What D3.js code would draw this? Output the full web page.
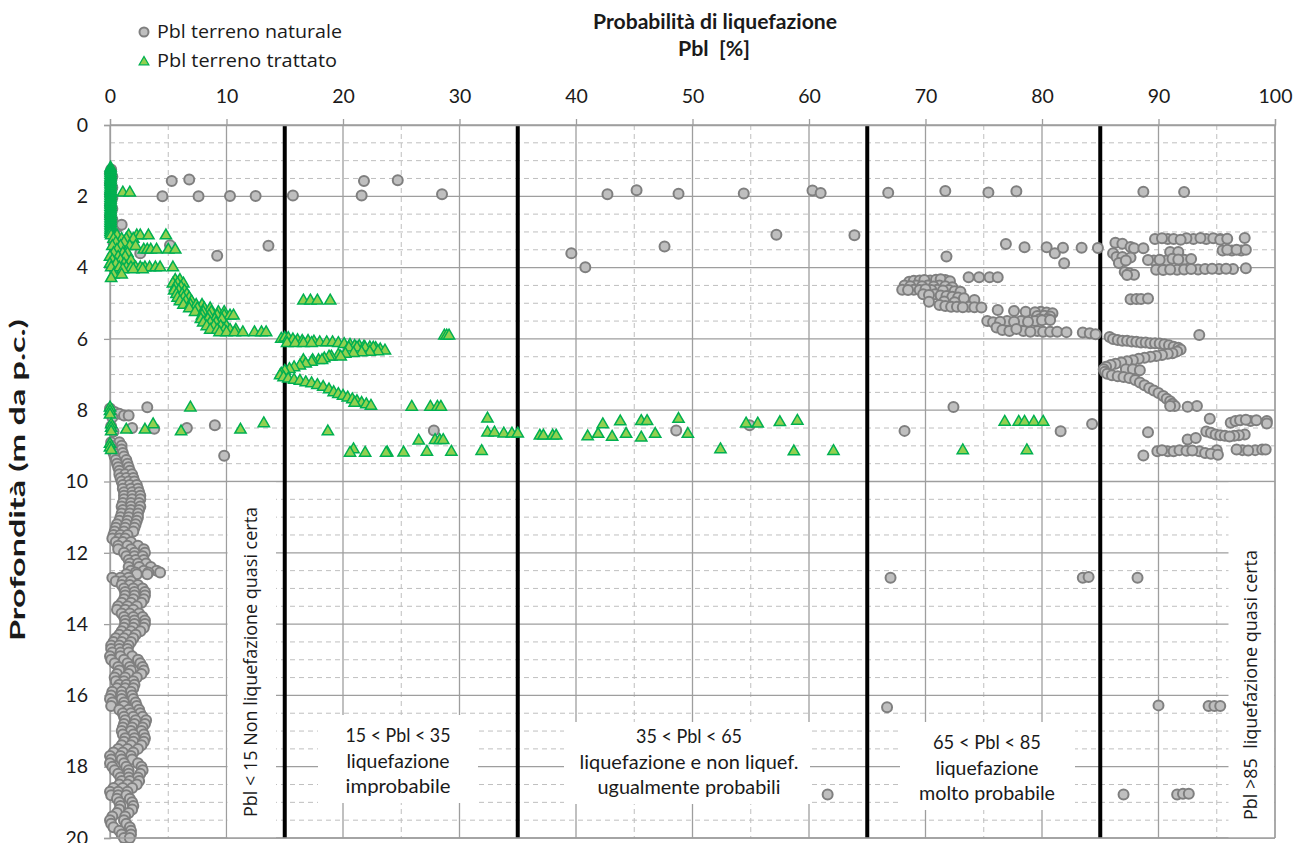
<!DOCTYPE html>
<html>
<head>
<meta charset="utf-8">
<script src="https://cdn.jsdelivr.net/npm/d3@7"></script>
<style>
  body { margin: 0; background: #fff; }
  text { fill: #1a1a1a; }
</style>
</head>
<body>
<svg id="chart"></svg>
<script>
// every row is [profondità, Pbl, Pbl, ...]
const naturaleSuperficie = [
  [1.25, 0.1], [1.35, 0.0], [1.45, 0.2], [1.55, 0.1], [1.65, 0.0], [1.75, 0.2], [1.85, 0.1],
  [1.95, 0.0], [2.05, 0.2], [2.15, 0.1], [2.25, 0.0], [2.35, 0.2], [2.45, 0.1], [2.55, 0.0],
  [2.65, 0.2], [2.75, 0.1], [2.85, 0.7], [2.8, 1.0], [2.95, 0.3], [3.05, 0.1],
  [1.57, 5.3, 21.8], [1.53, 6.8], [1.55, 24.7], [2.0, 4.5, 7.6], [1.99, 10.3, 12.5], [1.98, 15.7, 21.6],
  [1.94, 28.5, 42.7], [1.83, 45.2], [1.93, 48.8], [1.92, 54.4], [1.84, 60.3], [1.91, 61.0],
  [1.9, 66.8], [1.85, 71.7], [1.89, 75.4], [1.86, 77.8], [1.87, 88.7], [1.88, 92.2],
  [3.3, 0.3], [3.5, 0.8], [3.7, 0.2], [3.9, 1.0], [4.05, 0.4], [3.6, 2.6], [3.37, 5.15],
  [3.67, 9.2], [3.39, 13.6], [3.6, 39.6], [3.99, 40.8], [3.41, 47.6], [3.08, 57.2], [3.09, 63.9],
  [3.69, 71.8], [3.34, 76.9], [3.43, 78.5, 80.4], [3.6, 81.1], [3.44, 81.8, 83.4], [3.88, 81.9], [3.45, 84.8]
];

const naturaleAlto = [
  // 85-97, 3-4 m
  [3.2, 89.7, 90.8, 91.3, 93.0, 94.1, 95.3], [3.18, 90.3, 92.4, 94.7], [3.22, 91.9, 95.3],
  [3.17, 93.6, 97.4], [3.19, 95.9],
  [3.52, 95.5, 96.3, 97.1], [3.5, 95.9, 96.7, 97.5], [3.56, 91.0, 91.7],
  [3.3, 86.3], [3.33, 86.9], [3.42, 87.6], [3.46, 87.9, 88.7], [3.6, 86.1], [3.7, 86.4, 86.9],
  [3.72, 87.6], [3.87, 86.6], [3.8, 87.2, 89.6, 90.7], [3.79, 89.1], [3.78, 90.1, 92.2],
  [3.75, 91.2], [3.77, 91.7], [3.76, 92.8],
  [4.06, 89.8, 91.6], [4.07, 90.4], [4.05, 91.0, 92.2, 93.4], [4.04, 92.8, 94.0, 95.2, 96.4],
  [4.03, 94.6, 95.8], [4.02, 97.5],
  [4.12, 87.1], [4.16, 87.5], [4.2, 87.9], [4.21, 87.3],
  [4.89, 87.6], [4.88, 88.1, 88.5], [4.87, 89.1], [5.89, 93.5],
  // 68-85, 4.2-5.9 m
  [4.27, 73.7, 74.6, 75.5, 76.2],
  [4.4, 68.6], [4.37, 69.0], [4.36, 69.5, 70.4], [4.35, 69.9, 71.7], [4.34, 70.9], [4.33, 71.3], [4.38, 72.1],
  [4.5, 68.2, 69.2, 70.2, 71.2], [4.52, 68.7, 69.7, 71.7], [4.53, 70.7], [4.55, 72.3],
  [4.62, 68.0, 69.0, 71.0], [4.63, 68.5, 69.5, 70.5, 72.0], [4.61, 70.0], [4.64, 71.5], [4.66, 72.5], [4.68, 73.0],
  [4.75, 69.8, 70.8], [4.77, 70.3], [4.78, 71.3], [4.8, 71.8], [4.82, 72.3], [4.84, 72.8], [4.86, 73.3],
  [4.96, 70.3], [4.91, 74.2], [4.95, 71.6], [4.97, 72.5],
  [5.05, 71.2], [5.08, 71.7], [5.1, 72.2, 72.7, 73.7], [5.11, 73.2, 74.2], [5.12, 74.8],
  [5.19, 76.2], [5.22, 77.6], [5.24, 78.6, 79.9], [5.25, 79.4], [5.26, 80.4], [5.28, 80.9],
  [5.36, 79.6], [5.35, 80.2], [5.37, 80.7], [5.45, 79.8], [5.44, 80.5],
  [5.5, 75.3, 77.0, 78.2, 79.4], [5.53, 75.8], [5.52, 76.4, 77.6, 78.8], [5.48, 80.0], [5.47, 80.7],
  [5.68, 76.1], [5.75, 76.6], [5.78, 77.2, 78.4, 79.6], [5.72, 77.8], [5.8, 79.0, 80.1, 80.7, 81.3],
  [5.81, 82.1], [5.82, 83.5], [5.84, 84.1], [5.87, 84.6],
  // 85-92, 5.9-7.9 m
  [5.95, 85.8], [6.0, 86.1], [6.03, 86.5], [6.05, 86.9, 87.3], [6.07, 87.7], [6.08, 88.1],
  [6.1, 88.5, 88.9], [6.12, 89.3, 89.7], [6.13, 90.1], [6.15, 90.5], [6.18, 90.9], [6.22, 91.3],
  [6.25, 91.7], [6.3, 91.9], [6.35, 91.6], [6.4, 91.2],
  [6.42, 90.8], [6.45, 90.3], [6.48, 89.8], [6.5, 89.3], [6.53, 88.8], [6.56, 88.3], [6.6, 87.8],
  [6.63, 87.3], [6.66, 86.8], [6.7, 86.3], [6.73, 85.9], [6.78, 85.5], [6.85, 85.3, 87.2, 87.8],
  [6.88, 88.4], [6.92, 85.4], [6.98, 85.6], [7.02, 86.0], [7.05, 86.5], [7.07, 87.0], [7.1, 87.5],
  [7.15, 88.0], [7.22, 88.4], [7.3, 88.8], [7.38, 89.2], [7.45, 89.6], [7.52, 90.0], [7.6, 90.4],
  [7.68, 90.7], [7.75, 91.0], [7.82, 91.2], [7.88, 91.4, 91.0, 93.3], [7.9, 92.5],
  // 8-9.3 m
  [8.24, 94.4], [8.35, 96.2], [8.3, 96.6, 97.9, 99.3], [8.28, 97.0, 98.4], [8.27, 97.5], [8.37, 99.3],
  [8.6, 94.1], [8.63, 94.5], [8.68, 94.9, 97.4], [8.7, 95.3, 96.9], [8.72, 95.7, 96.5], [8.74, 96.1],
  [8.82, 92.5], [8.78, 93.2], [8.62, 89.1], [9.27, 88.7],
  [9.15, 89.9, 90.8, 91.3, 93.5], [9.12, 90.3, 91.8, 95.0, 97.2, 98.3], [9.14, 92.4], [9.13, 92.9, 97.7],
  [9.2, 94.0], [9.22, 94.5], [9.25, 95.1], [9.1, 96.7, 98.9, 99.2]
];

const naturaleIsolati = [
  [8.57, 27.8, 48.6], [8.42, 54.9], [8.58, 68.2], [7.91, 72.4], [8.59, 81.6], [8.39, 84.3],
  [7.95, 0.0], [8.05, 0.4], [8.1, 0.8], [8.15, 1.2, 1.6], [8.2, 0.2], [7.92, 3.2], [8.45, 0.1],
  [8.6, 0.3], [8.5, 1.9, 6.6], [8.52, 3.8], [8.42, 9.0], [9.28, 9.8],
  [12.7, 67.0, 83.5, 88.2], [12.68, 84.0], [16.33, 66.7], [16.28, 90.0], [16.3, 94.3, 94.8, 95.3],
  [18.78, 61.6, 87.0, 91.6], [18.76, 92.1, 92.6]
];

const naturaleBanda = [
  [8.9, 0.1, 0.8], [9.0, 0.1, 1.0], [9.1, 0.2, 1.0], [9.2, 0.3, 1.1], [9.3, 0.4, 1.2],
  [9.4, 0.5, 1.4], [9.5, 0.6, 1.5], [9.6, 0.7, 1.6], [9.7, 0.8, 1.7], [9.8, 0.8, 1.3, 1.9],
  [9.9, 0.9, 1.4, 2.0], [10.0, 1.0, 1.6, 2.1], [10.1, 1.1, 1.7, 2.3], [10.2, 1.1, 1.8, 2.4],
  [10.3, 1.2, 1.9, 2.5], [10.4, 1.2, 1.9, 2.6], [10.5, 1.2, 1.9, 2.6], [10.6, 1.1, 1.8, 2.5],
  [10.7, 1.0, 1.8, 2.6], [10.8, 1.1, 1.8, 2.5], [10.9, 1.0, 1.7, 2.4], [11.0, 0.9, 1.6, 2.4],
  [11.1, 0.8, 1.5, 2.3], [11.2, 0.6, 1.4, 2.2], [11.3, 0.5, 1.3, 2.1], [11.4, 0.4, 1.2, 2.0],
  [11.5, 0.3, 0.9, 1.5], [11.6, 0.2, 0.8, 1.3], [11.7, 0.5, 1.1, 1.8], [11.8, 0.7, 1.5, 2.4],
  [11.9, 0.7, 1.8, 2.9], [12.0, 1.2, 2.1, 3.0], [12.1, 1.4, 2.1, 2.8], [12.2, 1.6, 2.2, 2.9],
  [12.3, 1.7, 2.4, 3.1], [12.4, 1.6, 2.5, 3.5], [12.5, 1.8, 2.9, 4.0], [12.55, 2.2, 3.3, 4.3],
  [12.6, 1.4, 2.3, 3.2], [12.7, 0.2, 0.9, 1.6], [12.8, 0.5, 1.1, 1.8], [12.9, 1.0, 1.7, 2.4],
  [13.0, 1.2, 2.0, 2.8], [13.1, 1.3, 2.1, 3.0], [13.2, 1.3, 2.1, 3.0], [13.3, 1.2, 2.0, 2.9],
  [13.4, 1.0, 1.8, 2.7], [13.5, 0.7, 1.5, 2.3], [13.6, 0.6, 1.3, 2.0], [13.7, 1.0, 1.7, 2.5],
  [13.8, 1.2, 2.0, 2.8], [13.9, 1.3, 2.1, 3.0], [14.0, 1.3, 2.1, 3.0], [14.1, 1.2, 2.0, 2.9],
  [14.2, 1.0, 1.8, 2.6], [14.3, 0.8, 1.5, 2.2], [14.4, 0.5, 1.2, 2.0], [14.5, 0.3, 1.0, 1.8],
  [14.6, 0.1, 0.8, 1.6], [14.7, 0.1, 0.8, 1.5], [14.8, 0.2, 0.9, 1.6], [14.9, 0.0, 0.9, 1.9],
  [15.0, 0.1, 1.2, 2.4], [15.1, 0.4, 1.5, 2.6], [15.2, 0.7, 1.7, 2.8], [15.3, 0.8, 1.8, 2.9],
  [15.4, 0.6, 1.6, 2.7], [15.5, 0.4, 1.3, 2.3], [15.6, 0.5, 1.2, 2.0], [15.7, 0.8, 1.4, 2.1],
  [15.8, 0.6, 1.3, 2.0], [15.9, 0.2, 1.0, 1.8], [16.0, 0.1, 1.0, 1.9], [16.1, 0.0, 1.0, 2.0],
  [16.2, 0.2, 1.2, 2.2], [16.3, 0.1, 1.2, 2.3], [16.4, 0.8, 1.6, 2.5], [16.5, 1.1, 1.8, 2.6],
  [16.6, 1.2, 2.0, 2.8], [16.7, 1.3, 2.2, 3.1], [16.8, 1.2, 2.1, 3.0], [16.9, 1.1, 1.9, 2.8],
  [17.0, 1.0, 1.8, 2.7], [17.1, 1.1, 2.0, 2.9], [17.2, 1.3, 2.1, 3.0], [17.3, 1.2, 2.0, 2.9],
  [17.4, 1.0, 1.8, 2.7], [17.5, 0.7, 1.5, 2.4], [17.6, 0.3, 1.1, 2.0], [17.7, 0.0, 0.9, 1.8],
  [17.8, 0.1, 1.0, 1.9], [17.9, 0.0, 1.2, 2.4], [18.0, 0.2, 1.4, 2.7], [18.1, 0.4, 1.6, 2.8],
  [18.2, 0.7, 1.6, 2.6], [18.3, 0.9, 1.6, 2.4], [18.4, 1.0, 1.7, 2.5], [18.5, 0.8, 1.5, 2.3],
  [18.6, 0.3, 1.1, 1.9], [18.7, 0.0, 0.7, 1.5], [18.8, 0.1, 0.7, 1.4], [18.9, 0.6, 1.7],
  [19.0, 0.8, 1.9], [19.1, 0.9, 2.0], [19.2, 0.8, 1.9], [19.3, 0.6, 1.6], [19.4, 0.2, 1.3],
  [19.5, 0.0, 1.2], [19.6, 0.1, 1.4], [19.7, 0.3, 1.7], [19.8, 0.8, 1.8], [19.9, 1.0, 1.8],
  [20.0, 1.2, 1.7]
];

const trattatoColonna = [
  [1.2, 0.05], [1.25, 0.05], [1.3, 0.05], [1.35, 0.05], [1.4, 0.05], [1.45, 0.05], [1.5, 0.05],
  [1.55, 0.05], [1.6, 0.05], [1.65, 0.05], [1.7, 0.05], [1.75, 0.05], [1.8, 0.05], [1.85, 0.05],
  [1.9, 0.05, 1.1, 1.7], [1.95, 0.05], [2.0, 0.05], [2.05, 0.05], [2.1, 0.05], [2.15, 0.05],
  [2.2, 0.05], [2.25, 0.05], [2.3, 0.05], [2.35, 0.05], [2.4, 0.05], [2.45, 0.05], [2.5, 0.05],
  [2.55, 0.05], [2.6, 0.05], [2.65, 0.05], [2.7, 0.05], [2.75, 0.05], [2.8, 0.05], [2.85, 0.05],
  [2.9, 0.05], [2.95, 0.05], [3.0, 0.05], [3.05, 0.05]
];

const trattatoAlto = [
  [3.1, 0.1, 0.6, 1.6, 2.3, 2.6, 3.3, 4.8], [3.2, 0.3, 1.0, 1.4, 2.0], [3.3, 0.5, 1.2],
  [3.4, 0.2, 0.9, 1.7, 2.2], [3.5, 0.6, 2.9, 3.2, 3.5, 4.0, 5.0, 5.6], [3.6, 0.3, 1.1, 1.5],
  [3.7, 0.0, 0.7, 1.3], [3.8, 0.2, 0.9, 1.8], [3.9, 0.0, 0.5, 1.2],
  [4.0, 0.1, 0.8, 1.4, 1.8, 2.2, 2.6, 3.0, 3.4, 3.9, 4.3, 5.4], [4.05, 1.1, 2.0, 2.8],
  [4.2, 0.3, 1.0], [4.3, 0.1],
  [4.35, 5.6, 6.0], [4.45, 5.4, 5.8, 6.3], [4.55, 5.6, 6.1], [4.65, 5.5, 5.9, 6.4],
  [4.75, 5.7, 6.2, 6.6], [4.85, 5.8, 6.3, 6.8], [4.95, 6.0, 6.5, 7.0], [5.05, 6.3, 6.9, 7.4, 7.9],
  [5.15, 6.8, 7.5, 8.1, 8.6], [5.25, 7.3, 8.0, 8.7, 9.3, 9.8], [5.35, 7.9, 8.5, 9.2, 9.8, 10.3, 10.6],
  [5.45, 7.8, 8.4, 9.0, 9.6], [5.55, 8.0, 8.6, 9.1], [5.65, 8.3, 8.9, 9.5, 10.0],
  [5.75, 8.6, 9.2, 9.8, 10.3, 10.8], [5.82, 9.4, 10.0, 10.7, 11.4, 12.4, 13.0, 13.4],
  [4.93, 16.6, 17.2, 17.8, 18.9], [5.91, 28.7, 28.9, 29.1],
  // V tra 15 e 24
  [6.0, 14.7], [5.97, 15.0], [5.98, 15.3], [6.02, 15.7], [6.04, 16.1], [6.06, 16.5, 17.0],
  [6.08, 17.5], [6.1, 18.0, 18.6, 19.1], [6.12, 19.6, 15.2, 15.9, 16.6, 17.3], [6.15, 20.1],
  [6.17, 20.6], [6.2, 21.0, 21.4], [6.22, 21.8], [6.24, 22.3], [6.26, 22.8], [6.3, 23.2],
  [6.33, 23.6], [6.25, 20.5, 21.2, 21.9, 22.6],
  [6.35, 23.0], [6.37, 22.3], [6.38, 21.6], [6.4, 20.9], [6.42, 20.2], [6.45, 19.6],
  [6.5, 19.0, 18.8, 19.8], [6.55, 18.4], [6.6, 17.9, 16.6, 17.4, 18.2], [6.65, 17.3], [6.7, 16.8],
  [6.75, 16.3], [6.8, 15.8], [6.85, 15.4], [6.9, 15.0], [6.98, 14.7], [7.03, 14.6],
  [7.08, 14.9], [7.12, 15.3], [7.15, 15.8], [7.18, 16.3], [7.22, 16.8], [7.25, 17.3], [7.3, 17.8],
  [7.35, 18.3], [7.42, 18.8], [7.5, 19.2], [7.55, 19.6], [7.6, 20.0], [7.65, 20.4], [7.7, 20.8],
  [7.75, 21.2], [7.8, 21.6, 21.0], [7.84, 22.0], [7.88, 22.4]
];

const trattatoBasso = [
  [7.93, 0.0, 6.9], [8.03, 0.0], [8.13, 0.0], [8.4, 0.1, 3.7], [8.5, 0.1], [8.55, 1.4, 3.0, 11.2],
  [8.6, 0.1, 6.1, 18.7], [8.37, 13.2], [8.95, 0.0], [9.05, 0.0], [9.12, 0.1],
  [7.91, 25.9, 27.5, 28.1, 28.4], [9.19, 23.8, 25.2], [8.86, 26.5], [9.17, 27.2, 29.3],
  [8.84, 27.9, 28.3, 28.6], [9.15, 31.9, 62.1], [8.24, 32.4], [8.63, 32.4, 33.0],
  [8.66, 33.8, 34.5, 35.0], [8.72, 36.9, 37.2, 38.0, 38.3], [8.74, 41.0],
  [8.67, 41.9, 44.3, 46.8, 49.6], [8.4, 42.3], [8.75, 43.1], [8.32, 43.8], [8.31, 45.6, 46.1],
  [8.77, 45.6], [8.25, 48.8], [9.1, 52.4, 20.9], [8.38, 54.6, 55.6], [8.34, 57.5], [8.3, 59.0],
  [9.16, 58.7], [8.33, 76.8, 78.0, 78.5, 79.3, 80.1], [9.13, 73.2, 78.7], [9.2, 20.6, 21.9, 23.7]
];

const xTicks = d3.range(0, 101, 10);
const yTicks = d3.range(0, 21, 2);

const W = 1303, H = 843;
const x = d3.scaleLinear().domain([0, 100]).range([110, 1275]);
const y = d3.scaleLinear().domain([0, 20]).range([125, 838]);

const toPoints = rows => rows.flatMap(r => r.slice(1).map(v => ({ pbl: v, depth: r[0] })));
const naturale = toPoints([...naturaleSuperficie, ...naturaleAlto, ...naturaleIsolati, ...naturaleBanda]);
const trattato = toPoints([...trattatoColonna, ...trattatoAlto, ...trattatoBasso]);

const svg = d3.select("#chart").attr("width", W).attr("height", H);
const GRID = "#9e9e9e", CALIBRI = "Lato, sans-serif", SEGOE = "'Open Sans', sans-serif";

// grid
const grid = svg.append("g");
grid.selectAll("line.hmin")
  .data(d3.range(0.5, 20, 0.5).filter(d => d % 2 !== 0))
  .join("line")
    .attr("x1", x(0)).attr("x2", x(100))
    .attr("y1", d => y(d)).attr("y2", d => y(d))
    .attr("stroke", "#bfbfbf").attr("stroke-dasharray", "5,4");
grid.selectAll("line.vmin")
  .data(d3.range(5, 100, 10))
  .join("line")
    .attr("x1", d => x(d)).attr("x2", d => x(d))
    .attr("y1", y(0)).attr("y2", y(20))
    .attr("stroke", "#bfbfbf").attr("stroke-dasharray", "5,4");
grid.selectAll("line.hmaj")
  .data(yTicks)
  .join("line")
    .attr("x1", x(0)).attr("x2", x(100))
    .attr("y1", d => y(d)).attr("y2", d => y(d))
    .attr("stroke", GRID).attr("stroke-width", 1.3);
grid.selectAll("line.vmaj")
  .data(xTicks)
  .join("line")
    .attr("x1", d => x(d)).attr("x2", d => x(d))
    .attr("y1", y(0)).attr("y2", y(20))
    .attr("stroke", GRID).attr("stroke-width", 1.3);

// limiti delle classi
svg.append("g").selectAll("line")
  .data([15, 35, 65, 85])
  .join("line")
    .attr("x1", d => x(d)).attr("x2", d => x(d))
    .attr("y1", y(0)).attr("y2", y(20))
    .attr("stroke", "#000").attr("stroke-width", 4);

// axes
const xAxis = svg.append("g").attr("transform", `translate(0,${y(0)})`)
  .call(d3.axisTop(x).tickValues(xTicks).tickSize(6).tickPadding(16));
const yAxis = svg.append("g").attr("transform", `translate(${x(0)},0)`)
  .call(d3.axisLeft(y).tickValues(yTicks).tickSize(6).tickPadding(16));
[xAxis, yAxis].forEach(a => {
  a.select(".domain").attr("stroke", GRID).attr("stroke-width", 1.3);
  a.selectAll(".tick line").attr("stroke", GRID).attr("stroke-width", 1.3);
  a.selectAll(".tick text").attr("font-family", CALIBRI).attr("font-size", 19.5).attr("fill", "#1a1a1a");
});

// points
svg.append("g").selectAll("circle")
  .data(naturale)
  .join("circle")
    .attr("cx", d => x(d.pbl)).attr("cy", d => y(d.depth)).attr("r", 5)
    .attr("fill", "#bfbfbf").attr("stroke", "#7f7f7f").attr("stroke-width", 2);

const tri = d3.symbol().type(d3.symbolTriangle).size(55);
svg.append("g").selectAll("path")
  .data(trattato)
  .join("path")
    .attr("d", tri)
    .attr("transform", d => `translate(${x(d.pbl)},${y(d.depth)})`)
    .attr("fill", "#92d050").attr("stroke", "#00b050").attr("stroke-width", 1.5);

// riquadri di testo
const boxes = [
  { x0: 227.5, x1: 276, y0: 482.5, y1: 838 },
  { x0: 1228.5, x1: 1274, y0: 482.5, y1: 838 },
  { x0: 318, x1: 478, y0: 715, y1: 803 },
  { x0: 564, x1: 810, y0: 722, y1: 804 },
  { x0: 900, x1: 1075, y0: 722, y1: 810 }
];
svg.append("g").selectAll("rect")
  .data(boxes)
  .join("rect")
    .attr("x", d => d.x0).attr("y", d => d.y0)
    .attr("width", d => d.x1 - d.x0).attr("height", d => d.y1 - d.y0)
    .attr("fill", "#fff");

// frame right / bottom
svg.append("line").attr("x1", x(100)).attr("x2", x(100)).attr("y1", y(0)).attr("y2", y(20))
  .attr("stroke", GRID).attr("stroke-width", 1.3);
svg.append("line").attr("x1", x(0)).attr("x2", x(100)).attr("y1", y(20)).attr("y2", y(20))
  .attr("stroke", GRID).attr("stroke-width", 1.3);

const boxText = [
  { cx: 398, y: 742, lines: [["15 < Pbl < 35", 105], ["liquefazione", 103], ["improbabile", 105]] },
  { cx: 689, y: 743, lines: [["35 < Pbl < 65", 106], ["liquefazione e non liquef.", 219], ["ugualmente probabili", 183]] },
  { cx: 987, y: 749, lines: [["65 < Pbl < 85", 108], ["liquefazione", 103], ["molto probabile", 136]] }
];
boxText.forEach(b => {
  svg.append("text")
    .attr("font-family", CALIBRI).attr("font-size", 19).attr("text-anchor", "middle")
    .selectAll("tspan").data(b.lines).join("tspan")
      .attr("x", b.cx).attr("y", (d, i) => b.y + i * 25.5)
      .attr("textLength", d => d[1]).attr("lengthAdjust", "spacingAndGlyphs")
      .text(d => d[0]);
});

svg.append("text")
  .attr("transform", "translate(257,662) rotate(-90)")
  .attr("font-family", SEGOE).attr("font-size", 17.5).attr("text-anchor", "middle")
  .attr("textLength", 310).attr("lengthAdjust", "spacingAndGlyphs")
  .text("Pbl < 15 Non liquefazione quasi certa");
svg.append("text")
  .attr("transform", "translate(1257,685) rotate(-90)")
  .attr("font-family", SEGOE).attr("font-size", 17.5).attr("text-anchor", "middle")
  .attr("textLength", 270).attr("lengthAdjust", "spacingAndGlyphs")
  .style("white-space", "pre")
  .text("Pbl >85  liquefazione quasi certa");

// titles
const title = svg.append("text")
  .attr("font-family", CALIBRI).attr("font-size", 20).attr("font-weight", "bold")
  .attr("text-anchor", "middle");
title.append("tspan").attr("x", 715).attr("y", 29)
  .attr("textLength", 244).attr("lengthAdjust", "spacingAndGlyphs")
  .text("Probabilità di liquefazione");
title.append("tspan").attr("x", 714).attr("y", 56).style("white-space", "pre")
  .attr("textLength", 72).attr("lengthAdjust", "spacingAndGlyphs")
  .text("Pbl  [%]");

svg.append("text")
  .attr("transform", "translate(25,480) rotate(-90)")
  .attr("font-family", CALIBRI).attr("font-size", 20).attr("font-weight", "bold")
  .attr("text-anchor", "middle")
  .attr("textLength", 322).attr("lengthAdjust", "spacingAndGlyphs")
  .text("Profondità (m da p.c.)");

// legend
const legend = svg.append("g").attr("font-family", SEGOE).attr("font-size", 19);
legend.append("circle").attr("cx", 144).attr("cy", 32).attr("r", 4.5)
  .attr("fill", "#bfbfbf").attr("stroke", "#7f7f7f").attr("stroke-width", 2);
legend.append("text").attr("x", 157).attr("y", 38)
  .attr("textLength", 185).attr("lengthAdjust", "spacingAndGlyphs")
  .text("Pbl terreno naturale");
legend.append("path").attr("d", d3.symbol().type(d3.symbolTriangle).size(40))
  .attr("transform", "translate(144,62)")
  .attr("fill", "#92d050").attr("stroke", "#00b050").attr("stroke-width", 1.3);
legend.append("text").attr("x", 157).attr("y", 67)
  .attr("textLength", 180).attr("lengthAdjust", "spacingAndGlyphs")
  .text("Pbl terreno trattato");
</script>
</body>
</html>
